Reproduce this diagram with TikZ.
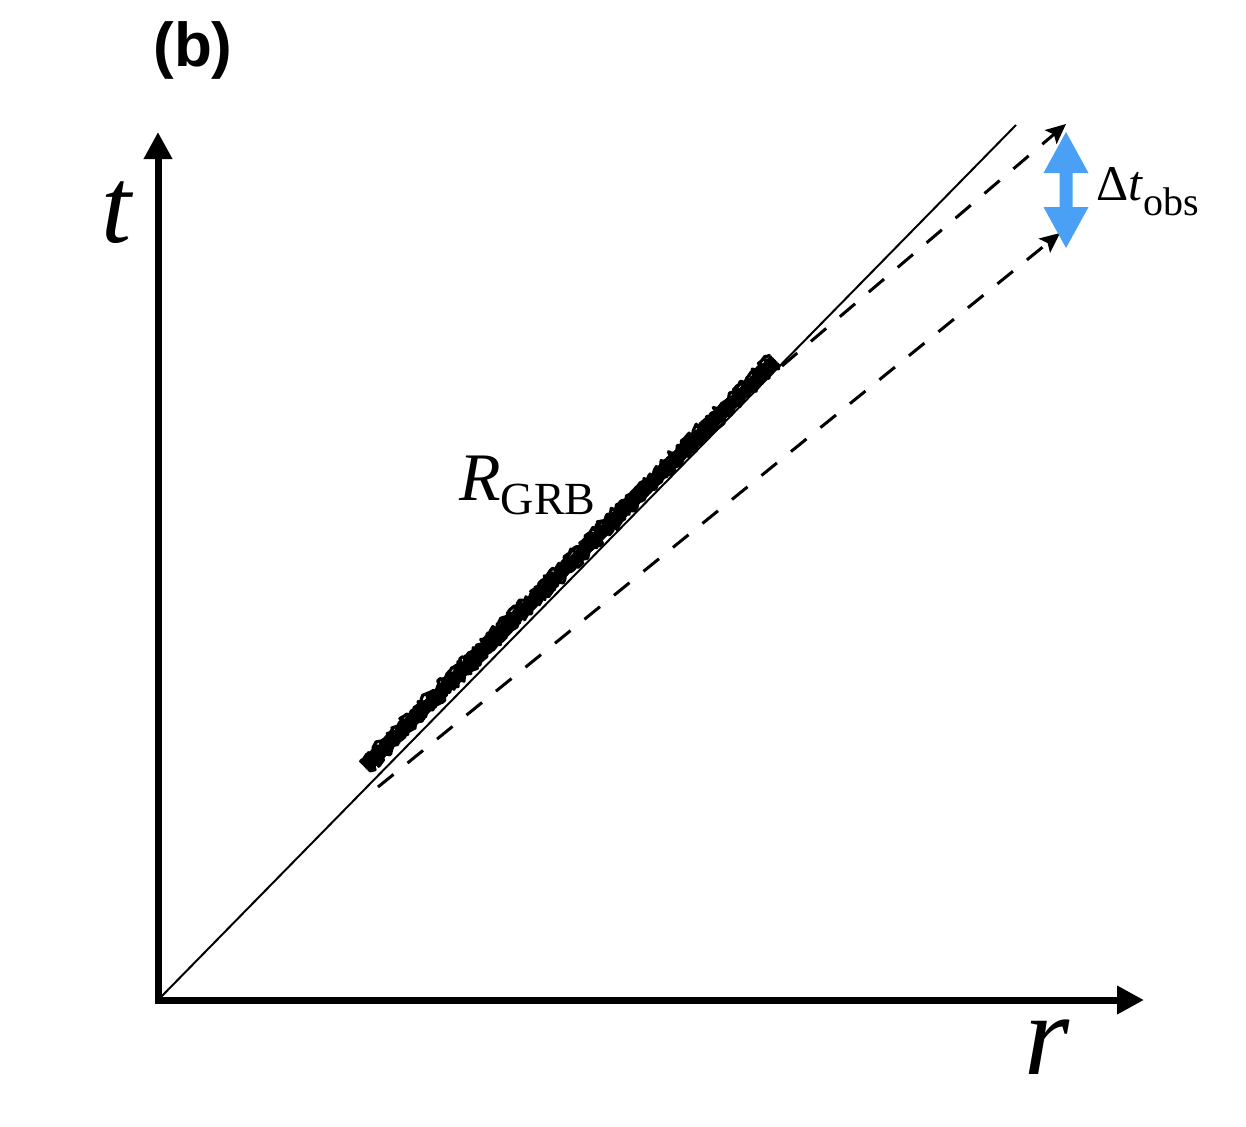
\documentclass[tikz,border=0pt]{standalone}
\usepackage{fontspec}
\setmainfont{Liberation Serif}
\newfontfamily\labsans{Liberation Sans}
\usetikzlibrary{arrows.meta,decorations.pathmorphing}
\definecolor{arrblue}{RGB}{74,160,245}
\tikzset{
  axisline/.style={line width=3.5pt, line join=miter},
  lightline/.style={line width=1pt},
  rayline/.style={line width=1.5pt, dash pattern=on 10pt off 9pt, -{Stealth[length=10pt,width=9pt,inset=2pt]}},
  bandline/.style={line width=1.6pt, line join=round, line cap=round, decorate, decoration={random steps, segment length=1.5pt, amplitude=1.5pt}},
  lbl/.style={inner sep=0pt, anchor=base west},
}
\begin{document}
\begin{tikzpicture}[x=0.5pt, y=-0.5pt]
\useasboundingbox (0,0) rectangle (1246,1126);
% coordinates
\coordinate (O) at (158,1000);
\coordinate (ttip) at (158,132);
\coordinate (rtip) at (1144,1000);
\coordinate (ltop) at (1016,125);
\coordinate (b1) at (366,767);
\coordinate (b2) at (775,361);
\coordinate (u1) at (782,366);
\coordinate (u2) at (1066,124);
\coordinate (d1) at (378,787);
\coordinate (d2) at (1060,233);
% axes
\draw[axisline, {Triangle[length=13.5pt,width=13.5pt]}-{Triangle[length=13.5pt,width=13.5pt]}] (ttip) -- (O) -- (rtip);
% light line
\draw[lightline] (O) -- (ltop);
% band R_GRB
\draw[line width=6pt] (b1) -- (b2);
\foreach \o in {-8,-6,-4,-2,0,2,4,5.5} {
  \draw[bandline] ([shift={(0.70*\o,0.71*\o)}]b1) -- ([shift={(0.70*\o,0.71*\o)}]b2);
}
% dashed rays
\draw[rayline] (u1) -- (u2);
\draw[rayline] (d1) -- (d2);
% blue double arrow
\fill[arrblue] (1066,132) -- (1088.5,173) -- (1072.5,173) -- (1072.5,207) -- (1088.5,207)
  -- (1066,248) -- (1043.5,207) -- (1059.5,207) -- (1059.5,173) -- (1043.5,173) -- cycle;
% labels
\node[lbl] (blab) at (153,66) {\labsans\bfseries\fontsize{31pt}{31pt}\selectfont (b)};
\node[lbl] (tlab) at (101,242) {\fontsize{54pt}{54pt}\selectfont\itshape t};
\node[lbl] (rlab) at (1024,1074) {\fontsize{58pt}{58pt}\selectfont\itshape r};
\node[lbl] (Rlab) at (459,500) {\fontsize{34pt}{34pt}\selectfont\textit{R}\raisebox{-7pt}{\fontsize{23pt}{23pt}\selectfont GRB}};
\node[lbl] (dtlab) at (1096,200) {\fontsize{25pt}{25pt}\selectfont Δ\textit{t}\raisebox{-7.5pt}{\fontsize{20pt}{20pt}\selectfont obs}};
\end{tikzpicture}
\end{document}
